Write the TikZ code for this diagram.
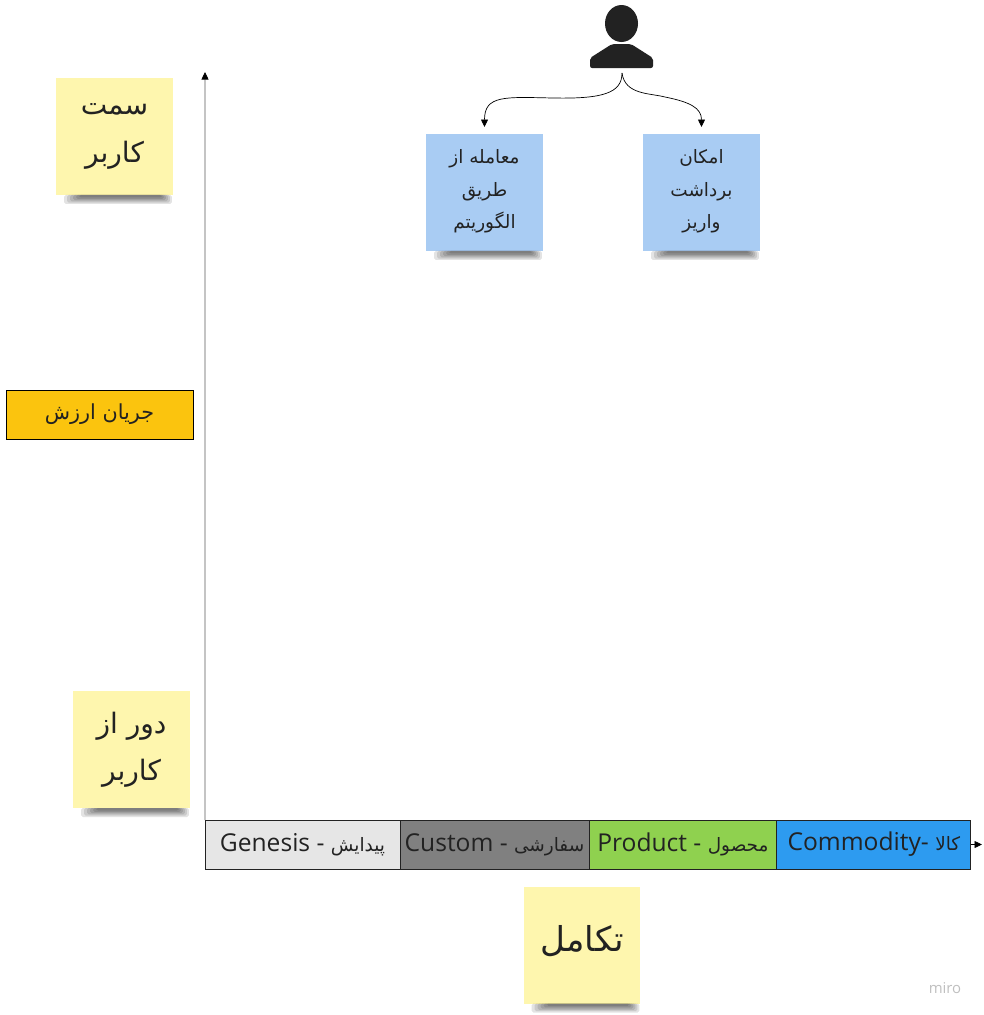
\documentclass[tikz,border=0pt]{standalone}
\usepackage{fontspec}
\setsansfont{Open Sans}
\newfontfamily\arabicfont[Script=Arabic]{DejaVu Sans}
\TeXXeTstate=1
\usepackage{xcolor}
\usetikzlibrary{shapes.geometric, arrows.meta, positioning, calc}
\definecolor{stickyyellow}{HTML}{FEF6AE}
\definecolor{stickyblue}{HTML}{A9CCF3}
\definecolor{valueorange}{HTML}{FBC40E}
\definecolor{inkdark}{HTML}{222222}
\definecolor{stagegray}{HTML}{808080}
\definecolor{stagelight}{HTML}{E6E6E6}
\definecolor{stagegreen}{HTML}{8FD14F}
\definecolor{stageblue}{HTML}{2D9BF0}
\newcommand{\fa}[1]{{\arabicfont\beginR #1\endR}}
\newcommand{\stagefa}[1]{{\arabicfont\fontsize{10.5}{15}\selectfont\beginR #1\endR}}
\tikzset{
  % Sticky notes
  sticky/.style={rectangle, minimum width=2.34cm, minimum height=2.34cm, inner sep=0pt, outer sep=0pt, align=center, text=inkdark, fill=#1},
  sticky/.default={stickyyellow},
  bigsticky/.style={sticky, font=\fontsize{16}{27}\selectfont},
  smallsticky/.style={sticky=stickyblue, font=\fontsize{10.5}{18.5}\selectfont},
  stickyshadow/.style={fill=black, opacity=0.11, draw=none, rounded corners=1pt},
  % Evolution stages
  stage/.style={rectangle, minimum height=0.98cm, inner sep=0pt, outer sep=0pt, draw=inkdark, line width=0.5pt, text=inkdark, fill=#1, font=\sffamily\fontsize{14}{15}\selectfont},
  % Connectors
  arrow/.style={-{Stealth[length=1.5mm, width=1.4mm, inset=0pt]}, black, line width=0.4pt},
  axis/.style={-{Stealth[length=1.5mm, width=1.4mm, inset=0pt, color=black]}, black!65, line width=0.4pt},
}
\begin{document}
\begin{tikzpicture}[x=0.02cm, y=-0.02cm]
    \useasboundingbox (0,0) rectangle (984,1015);

    % User
    \node[ellipse, fill=inkdark, minimum width=0.66cm, minimum height=0.74cm, inner sep=0pt] (userhead) at (621.5,23.5) {};
    \fill[inkdark, rounded corners=1.2pt] (590,68) -- (590,58) -- (612,44) -- (631,44) -- (653,58) -- (653,68) -- cycle;
    \coordinate (userfoot) at (622,73);

    % Blue notes
    \node[smallsticky] (algo) at (484.5,192.5) {\fa{معامله از}\\\fa{طریق}\\\fa{الگوریتم}\\[-15pt]};
    \node[smallsticky] (deposit) at (701.5,192.5) {\fa{امکان}\\\fa{برداشت}\\\fa{واریز}\\[-15pt]};

    % Yellow notes
    \node[bigsticky] (nearuser) at (114.5,136.5) {\fa{سمت}\\\fa{کاربر}};
    \node[bigsticky] (faruser) at (131.5,749.5) {\fa{دور از}\\\fa{کاربر}};
    \node[bigsticky, font=\fontsize{19.5}{24}\selectfont] (evolution) at (582,945) {\fa{تکامل}\\[-16pt]};

    % Value chain
    \node[rectangle, minimum width=3.74cm, minimum height=0.98cm, inner sep=0pt, draw=black, line width=0.5pt, fill=valueorange, text=inkdark, font=\fontsize{11.8}{13}\selectfont] (valuechain) at (99.5,414.5) {\fa{جریان ارزش}};

    % Stages
    \node[stage=stagelight, minimum width=3.9cm] (genesis) at (302.5,844.5) {Genesis - \stagefa{پیدایش}};
    \node[stage=stagegray, minimum width=3.78cm, right=0pt of genesis] (custom) {Custom - \stagefa{سفارشی}};
    \node[stage=stagegreen, minimum width=3.76cm, right=0pt of custom] (product) {Product - \stagefa{محصول}};
    \node[stage=stageblue, minimum width=3.88cm, right=0pt of product] (commodity) {Commodity- \stagefa{کالا}};

    % Axes
    \coordinate (axistop) at (205,72);
    \coordinate (axisend) at (982,844.5);
    \draw[axis] (genesis.north west) -- (axistop);
    \draw[arrow] (commodity.east) -- (axisend);

    % Arrows
    \draw[arrow] (userfoot) .. controls (622,93) and (603,99) .. (553,98) .. controls (505,97) and (484.5,95) .. ($(algo.north)+(0,-7)$);
    \draw[arrow] (userfoot) .. controls (625,95) and (650,93) .. (665,97) .. controls (690,102) and (701.5,108) .. ($(deposit.north)+(0,-7)$);

    % Shadows
    \foreach \n in {algo,deposit,nearuser,faruser,evolution}
      \foreach \k in {0,...,5}
        \fill[stickyshadow] ($(\n.south west)+(8+3*\k,0)$) rectangle ($(\n.south east)+(-1-2*\k,9-1.3*\k)$);

    % Logo
    \node[text=black!25, font=\sffamily\fontsize{8.5}{9}\selectfont] (miro) at (945,988) {miro};
\end{tikzpicture}
\end{document}
